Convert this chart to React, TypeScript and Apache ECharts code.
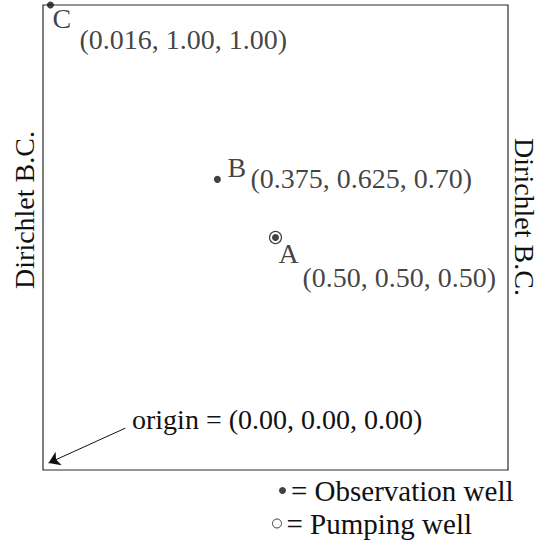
import React, { useEffect, useRef } from 'react';
import * as echarts from 'echarts';

// ---------- data ----------
const WELL_NAMES = ['A', 'B', 'C'];
const WELL_X = [0.5, 0.375, 0.016];
const WELL_Y = [0.5, 0.625, 1.0];
const WELL_COORD_LABELS = ['(0.50, 0.50, 0.50)', '(0.375, 0.625, 0.70)', '(0.016, 1.00, 1.00)'];
const OBSERVATION_WELLS = ['A', 'B', 'C'];
const PUMPING_WELLS = ['A'];
const ORIGIN_LABEL = 'origin = (0.00, 0.00, 0.00)';
const ARROW_START = [0.177, 0.09];
const ARROW_END = [0.012, 0.015];
const BOUNDARY_LABEL = 'Dirichlet B.C.';
const LEGEND_OBSERVATION = '= Observation well';
const LEGEND_PUMPING = '= Pumping well';

// ---------- layout / style ----------
const FONT = '"Liberation Serif", "Times New Roman", Times, serif';
const INK = '#111111';
const LETTER_OFFSET: Record<string, number[]> = { A: [3, 16], B: [10, -12], C: [2, 13] };
const COORD_OFFSET: Record<string, number[]> = { A: [27, 40], B: [33, -1], C: [29, 34] };

function wellPoint(name: string) {
  const i = WELL_NAMES.indexOf(name);
  return [WELL_X[i], WELL_Y[i]];
}

export default function App() {
  const ref = useRef<HTMLDivElement>(null);

  useEffect(() => {
    if (!ref.current) return;
    const chart = echarts.init(ref.current, undefined, { renderer: 'svg' });

    const labelText = {
      fontFamily: FONT,
      fontSize: 28,
      color: INK,
      textBorderWidth: 0,
      textShadowBlur: 0,
    };
    const legendText = { fontFamily: FONT, fontSize: 29, color: INK };

    const option: any = {
      animation: false,
      backgroundColor: '#fff',
      grid: {
        show: true,
        left: 43,
        top: 5,
        right: 30,
        bottom: 71,
        borderColor: '#2a2a2a',
        borderWidth: 1.2,
        backgroundColor: 'transparent',
      },
      xAxis: {
        type: 'value',
        min: 0,
        max: 1,
        axisLine: { show: false },
        axisTick: { show: false },
        axisLabel: { show: false },
        splitLine: { show: false },
      },
      yAxis: {
        type: 'value',
        min: 0,
        max: 1,
        axisLine: { show: false },
        axisTick: { show: false },
        axisLabel: { show: false },
        splitLine: { show: false },
      },
      legend: [
        {
          data: [{ name: LEGEND_OBSERVATION, icon: 'circle' }],
          left: 279,
          top: 476,
          padding: 0,
          itemWidth: 7,
          itemHeight: 7,
          selectedMode: false,
          textStyle: legendText,
        },
        {
          data: [
            {
              name: LEGEND_PUMPING,
              icon: 'circle',
              itemStyle: { color: '#fff', borderColor: INK, borderWidth: 1 },
            },
          ],
          left: 272,
          top: 509,
          padding: 0,
          itemWidth: 9,
          itemHeight: 9,
          selectedMode: false,
          textStyle: legendText,
        },
      ],
      series: [
        {
          name: LEGEND_PUMPING,
          type: 'scatter',
          silent: true,
          z: 2,
          symbol: 'circle',
          symbolSize: 12,
          itemStyle: { color: '#fff', borderColor: INK, borderWidth: 1.2 },
          data: PUMPING_WELLS.map(wellPoint),
        },
        {
          name: LEGEND_OBSERVATION,
          type: 'scatter',
          silent: true,
          z: 3,
          symbol: 'circle',
          symbolSize: 7,
          itemStyle: { color: INK },
          data: OBSERVATION_WELLS.map(wellPoint),
          markLine: {
            silent: true,
            symbol: ['none', 'arrow'],
            symbolSize: 11,
            label: { show: false },
            lineStyle: { color: INK, width: 1, type: 'solid' },
            data: [[{ coord: ARROW_START }, { coord: ARROW_END }]],
          },
        },
        {
          name: 'letters',
          type: 'scatter',
          silent: true,
          symbolSize: 0,
          data: WELL_NAMES.map((n, i) => ({
            name: n,
            value: [WELL_X[i], WELL_Y[i]],
            label: { offset: LETTER_OFFSET[n] },
          })),
          label: {
            show: true,
            position: 'inside',
            align: 'left',
            verticalAlign: 'middle',
            formatter: (p: any) => p.name,
            ...labelText,
          },
        },
        {
          name: 'coords',
          type: 'scatter',
          silent: true,
          symbolSize: 0,
          data: WELL_NAMES.map((n, i) => ({
            name: n,
            value: [WELL_X[i], WELL_Y[i]],
            label: { offset: COORD_OFFSET[n] },
          })),
          label: {
            show: true,
            position: 'inside',
            align: 'left',
            verticalAlign: 'middle',
            formatter: (p: any) => WELL_COORD_LABELS[p.dataIndex],
            ...labelText,
          },
        },
      ],
      graphic: [
        {
          type: 'text',
          x: 24,
          y: 210,
          rotation: Math.PI / 2,
          silent: true,
          style: {
            text: BOUNDARY_LABEL,
            fontFamily: FONT,
            fontSize: 28,
            fill: INK,
            align: 'center',
            verticalAlign: 'middle',
          },
        },
        {
          type: 'text',
          x: 524,
          y: 217,
          rotation: -Math.PI / 2,
          silent: true,
          style: {
            text: BOUNDARY_LABEL,
            fontFamily: FONT,
            fontSize: 28,
            fill: INK,
            align: 'center',
            verticalAlign: 'middle',
          },
        },
        {
          type: 'text',
          x: 132,
          y: 419,
          silent: true,
          style: {
            text: ORIGIN_LABEL,
            fontFamily: FONT,
            fontSize: 28,
            fill: INK,
            align: 'left',
            verticalAlign: 'middle',
          },
        },
      ],
    };

    chart.setOption(option);
    return () => chart.dispose();
  }, []);

  return (
    <div
      ref={ref}
      style={{ position: 'fixed', left: 0, top: 0, width: 538, height: 541, background: '#fff' }}
    />
  );
}
